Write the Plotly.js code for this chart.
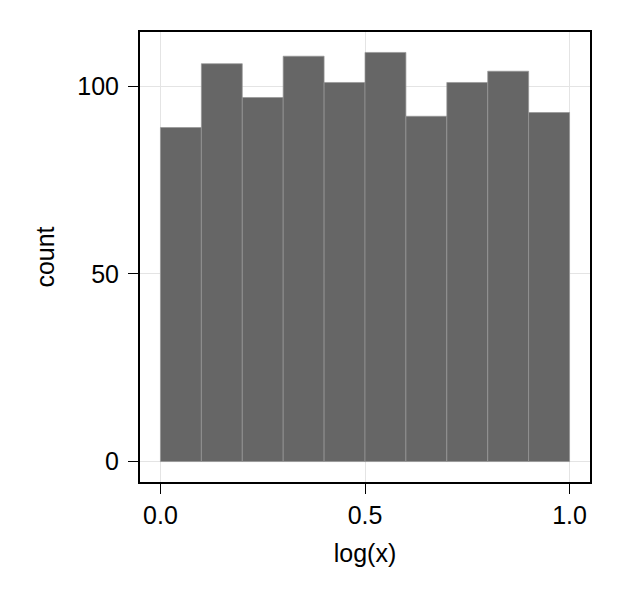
<!DOCTYPE html>
<html>
<head>
<meta charset="utf-8">
<script src="https://cdn.plot.ly/plotly-3.0.1.min.js"></script>
<style>html,body{margin:0;padding:0;background:#fff;}#chart{width:622px;height:600px;}</style>
</head>
<body>
<div id="chart"></div>
<script>
// Histogram bin edges and counts
const binEdges = [0.0, 0.1, 0.2, 0.3, 0.4, 0.5, 0.6, 0.7, 0.8, 0.9, 1.0];
const counts = [89, 106, 97, 108, 101, 109, 92, 101, 104, 93];
const xTickVals = [0.0, 0.5, 1.0];
const xTickText = ["0.0", "0.5", "1.0"];
const yTickVals = [0, 50, 100];
const yTickText = ["0", "50", "100"];

const centers = counts.map((_, i) => (binEdges[i] + binEdges[i + 1]) / 2);
const widths = counts.map((_, i) => binEdges[i + 1] - binEdges[i]);

const font = "'Liberation Sans', Arial, Helvetica, sans-serif";

const trace = {
  type: 'bar',
  x: centers,
  y: counts,
  width: widths,
  marker: { color: '#666666', line: { color: 'rgba(150,150,150,0.9)', width: 0.8 } },
  hoverinfo: 'x+y'
};

const axisCommon = {
  showline: true, mirror: true, linecolor: '#000', linewidth: 2,
  showgrid: true, gridcolor: '#e4e4e4', gridwidth: 1,
  zeroline: false,
  ticks: 'outside', ticklen: 10, tickwidth: 1, tickcolor: '#000',
  tickfont: { family: font, size: 25, color: '#000' },
  tickmode: 'array'
};

const layout = {
  width: 622, height: 600,
  margin: { l: 140, r: 32, t: 32, b: 118 },
  paper_bgcolor: '#fff', plot_bgcolor: '#fff',
  showlegend: false,
  bargap: 0,
  xaxis: Object.assign({}, axisCommon, {
    range: [-0.05, 1.05],
    tickvals: xTickVals, ticktext: xTickText,
    title: { text: 'log(x)', font: { family: font, size: 25, color: '#000' }, standoff: 16 }
  }),
  yaxis: Object.assign({}, axisCommon, {
    range: [-5.45, 114.45],
    tickvals: yTickVals, ticktext: yTickText,
    ticklabelstandoff: 4,
    title: { text: 'count', font: { family: font, size: 25, color: '#000' }, standoff: 16 }
  })
};

Plotly.newPlot('chart', [trace], layout, { displayModeBar: false, staticPlot: true });
</script>
</body>
</html>
